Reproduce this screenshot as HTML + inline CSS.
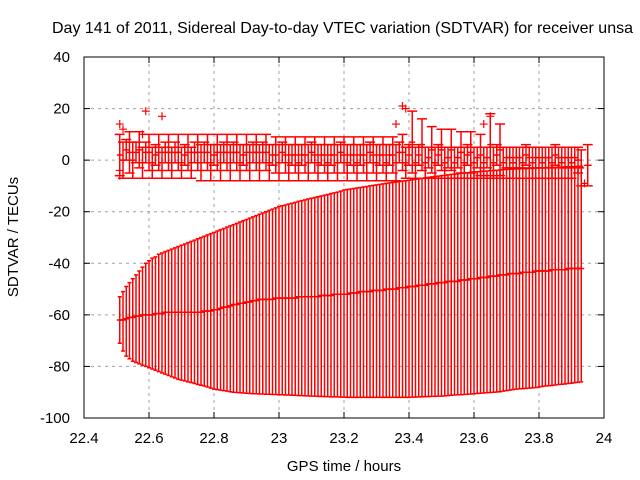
<!DOCTYPE html>
<html><head><meta charset="utf-8"><style>
html,body{margin:0;padding:0;background:#fff;}
svg{display:block;font-family:"Liberation Sans",sans-serif;}
</style></head><body>
<svg id="chart" width="640" height="480" viewBox="0 0 640 480">
<rect x="0" y="0" width="640" height="480" fill="#fff"/>
<g id="grid"></g>
<g id="plot"></g>
<g id="axes"></g>
<text x="52" y="33" font-size="16" fill="#000">Day 141 of 2011, Sidereal Day-to-day VTEC variation (SDTVAR) for receiver unsa</text>
<text x="344" y="471" font-size="15" text-anchor="middle" fill="#000">GPS time / hours</text>
<text x="0" y="0" font-size="15" text-anchor="middle" fill="#000" transform="translate(18,237) rotate(-90)">SDTVAR / TECUs</text>
</svg>
<script>
const xTicks=[22.4,22.6,22.8,23,23.2,23.4,23.6,23.8,24];
const xTickLabels=["22.4","22.6","22.8","23","23.2","23.4","23.6","23.8","24"];
const yTicks=[-100,-80,-60,-40,-20,0,20,40];
const yTickLabels=["-100","-80","-60","-40","-20","0","20","40"];
// Big series: x = 22.51 + 0.01*i
const bigStart=22.51, bigStep=0.01;
const bigCenter=[-62,-62,-61.5,-61,-61,-60.5,-60.5,-60,-60,-60,
-60,-59.5,-59.5,-59.5,-59,-59,-59,-59,-59,-59,
-59,-59,-59,-59,-59,-59,-58.5,-58.5,-58.5,-58,
-58,-57.5,-57,-57,-56.5,-56,-56,-55.5,-55.5,-55,
-55,-54.5,-54.5,-54,-54,-54,-54,-54,-53.5,-53.5,
-53.5,-53.5,-53.5,-53.5,-53.5,-53,-53,-53,-53,-53,
-53,-53,-52.5,-52.5,-52.5,-52.5,-52,-52,-52,-52,
-52,-51.5,-51.5,-51.5,-51,-51,-51,-51,-50.5,-50.5,
-50.5,-50.5,-50,-50,-50,-50,-49.5,-49.5,-49.5,-49,
-49,-49,-48.5,-48.5,-48.5,-48,-48,-48,-47.5,-47.5,
-47.5,-47,-47,-47,-47,-46.5,-46.5,-46.5,-46,-46,
-46,-45.5,-45.5,-45.5,-45,-45,-45,-44.5,-44.5,-44.5,
-44,-44,-44,-44,-43.5,-43.5,-43.5,-43.5,-43,-43,
-43,-43,-43,-42.5,-42.5,-42.5,-42.5,-42.5,-42,-42,
-42,-42,-42];
const bigHigh=[-53,-51,-49,-47.5,-46,-44.5,-43,-41.5,-40,-39,
-38,-37.5,-36.5,-36,-35.5,-35,-34.5,-34,-33.5,-33,
-32.5,-32,-31.5,-31,-30.5,-30,-29.5,-29,-28.5,-28,
-27.5,-27,-26.5,-26,-25.5,-25,-24.5,-24,-23.5,-23,
-22.5,-22,-21.5,-21,-20.5,-20,-19.5,-19,-18.5,-18,
-17.7,-17.4,-17,-16.7,-16.4,-16,-15.7,-15.4,-15,-14.8,
-14.5,-14.2,-13.9,-13.6,-13.3,-13,-12.7,-12.4,-12,-11.6,
-11.4,-11.2,-11,-10.8,-10.6,-10.4,-10.2,-10,-9.8,-9.6,
-9.4,-9.2,-9,-8.8,-8.6,-8.5,-8.3,-8.1,-8,-7.8,
-7.6,-7.4,-7.2,-7,-6.9,-6.7,-6.5,-6.3,-6.2,-6,
-5.9,-5.7,-5.5,-5.4,-5.3,-5.1,-5,-4.9,-4.7,-4.6,
-4.5,-4.4,-4.3,-4.2,-4.1,-4,-3.9,-3.8,-3.7,-3.6,
-3.5,-3.5,-3.4,-3.4,-3.3,-3.3,-3.2,-3.2,-3.1,-3,
-3,-2.9,-2.9,-2.8,-2.8,-2.7,-2.7,-2.6,-2.6,-2.5,
-2.5,-2.4,-2.4];
const bigLow=[-71,-74,-76,-77,-78,-78.5,-79,-79.5,-80,-80.5,
-81,-81.5,-82,-82.5,-83,-83.5,-84,-84.5,-85,-85.3,
-85.6,-86,-86.3,-86.6,-87,-87.3,-87.6,-88,-88.4,-88.8,
-89,-89.2,-89.4,-89.6,-89.8,-90,-90.1,-90.2,-90.3,-90.4,
-90.5,-90.6,-90.6,-90.7,-90.7,-90.8,-90.8,-90.9,-90.9,-91,
-91,-91.1,-91.1,-91.2,-91.2,-91.3,-91.3,-91.4,-91.4,-91.5,
-91.5,-91.6,-91.6,-91.7,-91.7,-91.8,-91.8,-91.8,-91.9,-91.9,
-92,-92,-92,-92,-92,-92,-92,-92,-92,-92,
-92,-92,-92,-92,-92,-92,-92,-92,-92,-92,
-91.9,-91.9,-91.8,-91.8,-91.7,-91.7,-91.6,-91.6,-91.5,-91.5,
-91.4,-91.3,-91.2,-91.1,-91,-91,-90.9,-90.8,-90.7,-90.6,
-90.5,-90.4,-90.3,-90.2,-90.1,-90,-89.9,-89.8,-89.6,-89.4,
-89.2,-89,-88.8,-88.7,-88.6,-88.5,-88.4,-88.3,-88.2,-88,
-87.8,-87.6,-87.5,-87.4,-87.2,-87,-86.9,-86.8,-86.6,-86.5,
-86.3,-86.2,-86];
// Near-zero series (x = start + 0.03*i), symmetric errors
const aStart=22.51, bStart=22.52, cStart=22.53, smallStep=0.03;
const aCenter=[2,3,4,3,3,3,3,3,3,3, 3,3,3,3,3,3,2,2,2,2, 2,2,2,2,2,2,2,2,2,3, 7,6,4,4,4,3,3,2,6,4, 1,1,1,1,1,1,1,0,-2];
const aErr=[8,8,7,7,7,7,7,7,7,7, 7,7,7,7,7,7,7,7,7,7, 7,7,7,7,7,7,7,7,7,7, 12,10,9,8,8,8,8,8,12,10, 4,4,4,4,4,4,4,5,8];
const bCenter=[0,0,-1,-1,-1,-1,-1,-1,-1,-1, -1,-1,-1,-1,-1,-1,-1,-1,-1,-1, -1,-1,-1,-1,-1,-1,-1,-1,-1,-1, -1,-1,-1,-1,-1,-1,-1,-1,-1,-1, -1,-1,-1,-1,-1,-1,-1,-3];
const bErr=[7,7,6,6,6,6,6,6,7,7, 7,7,7,7,7,7,7,7,7,7, 7,7,7,7,7,7,7,7,7,6, 6,6,6,6,6,6,6,6,6,6, 6,6,6,6,6,6,6,7];
const cCenter=[4,3,3,2,3,3,2,3,3,2, 3,3,2,3,3,2,3,2,2,3, 2,2,3,2,2,3,2,2,3,2, 2,1,2,1,1,2,1,1,2,1, 1,2,1,1,2,1,1];
const cErr=[4,4,4,4,4,4,4,4,4,4, 4,4,4,4,4,4,4,4,4,4, 4,4,4,4,4,4,4,4,4,4, 4,4,4,4,4,4,4,4,4,4, 4,4,4,4,4,4,4];
const outlierX=[22.59,22.64,22.51,22.51,22.51,22.52,22.58,23.36,23.38,23.39,23.40,23.63,23.65,23.94,23.95];
const outlierY=[19,17,14,-4,-6,12,10,14,21,20,5,14,17,-9,-2];

const NS='http://www.w3.org/2000/svg';
const L=84,R=604,T=57,B=418,X0=22.4,X1=24,Y0=-100,Y1=40;
function sx(v){return L+(v-X0)/(X1-X0)*(R-L);}
function sy(v){return B-(v-Y0)/(Y1-Y0)*(B-T);}
function mk(tag,attrs,parent){const e=document.createElementNS(NS,tag);for(const k in attrs)e.setAttribute(k,attrs[k]);parent.appendChild(e);return e;}
const grid=document.getElementById('grid'),plot=document.getElementById('plot'),axes=document.getElementById('axes');

xTicks.forEach((v,i)=>{
  const x=sx(v);
  if(i>0&&i<xTicks.length-1){const g=mk('line',{x1:x,y1:T,x2:x,y2:B,stroke:'#a0a0a0','stroke-dasharray':'3,4','stroke-width':1},grid);
  
  }
  const t=mk('line',{x1:x,y1:B,x2:x,y2:B-6,stroke:'#000'},axes);
  
  
  const t2=mk('line',{x1:x,y1:T,x2:x,y2:T+6,stroke:'#000'},axes);
  
  
  const lb=mk('text',{x:x,y:B+25,'font-size':15,'text-anchor':'middle',fill:'#000'},axes);
  lb.textContent=xTickLabels[i];
  
  
});
yTicks.forEach((v,i)=>{
  const y=sy(v);
  if(i>0&&i<yTicks.length-1){const g=mk('line',{x1:L,y1:y,x2:R,y2:y,stroke:'#a0a0a0','stroke-dasharray':'3,4','stroke-width':1},grid);
  
  }
  const t=mk('line',{x1:L,y1:y,x2:L+6,y2:y,stroke:'#000'},axes);
  
  
  const t2=mk('line',{x1:R,y1:y,x2:R-6,y2:y,stroke:'#000'},axes);
  
  
  const lb=mk('text',{x:L-14,y:y+5,'font-size':15,'text-anchor':'end',fill:'#000'},axes);
  lb.textContent=yTickLabels[i];
  
  
});
const frame=mk('rect',{x:L,y:T,width:R-L,height:B-T,fill:'none',stroke:'#000','stroke-width':1},axes);



const RED='#ff0000';
function errBar(x,c,lo,hi,name,cap){
  const X=sx(x),C=sy(c),Lo=sy(lo),Hi=sy(hi);
  const g=mk('path',{d:`M${X},${Lo}V${Hi}M${X-cap},${Lo}h${2*cap}M${X-cap},${Hi}h${2*cap}M${X-3},${C}h6M${X},${C-3}v6`,stroke:RED,'stroke-width':1.5,fill:'none'},plot);
  
  
}
bigCenter.forEach((c,i)=>{errBar(bigStart+bigStep*i,c,bigLow[i],bigHigh[i],'big-error-bar',2);});
let d='';bigCenter.forEach((c,i)=>{d+=(i?'L':'M')+sx(bigStart+bigStep*i)+','+sy(c);});
const ln=mk('path',{d:d,stroke:RED,'stroke-width':1.5,fill:'none'},plot);


aCenter.forEach((c,i)=>{errBar(aStart+smallStep*i,c,c-aErr[i],c+aErr[i],'series-a-error-bar',5);});
bCenter.forEach((c,i)=>{errBar(bStart+smallStep*i,c,c-bErr[i],c+bErr[i],'series-b-error-bar',5);});
cCenter.forEach((c,i)=>{errBar(cStart+smallStep*i,c,c-cErr[i],c+cErr[i],'series-c-error-bar',5);});
outlierX.forEach((x,i)=>{
  const X=sx(x),Y=sy(outlierY[i]);
  const p=mk('path',{d:`M${X-4},${Y}h8M${X},${Y-4}v8`,stroke:RED,'stroke-width':1.2,fill:'none'},plot);
  
  
});
</script>
</body></html>
